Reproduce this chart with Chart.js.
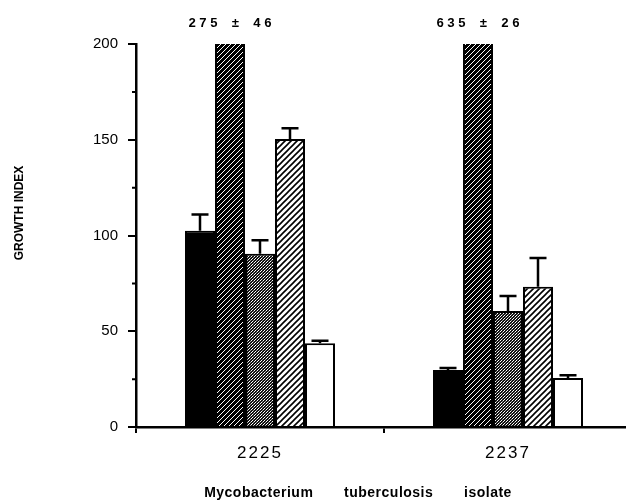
<!DOCTYPE html>
<html>
<head>
<meta charset="utf-8">
<script src="https://cdn.jsdelivr.net/npm/chart.js@4.4.0/dist/chart.umd.min.js"></script>
<style>
html, body { margin: 0; padding: 0; background: #fff; overflow: hidden; }
</style>
</head>
<body>
<canvas id="growthChart" width="632" height="501"></canvas>
<script>
// values (growth index, mean and error)
const isolates = ['2225', '2237'];
const solidBlack = [102.5, 29.8];
const solidBlackErr = [8.5, 1];
const darkHatch = [275, 635];
const darkHatchErr = [46, 26];
const stipple = [90.5, 60.6];
const stippleErr = [7, 7.8];
const lightHatch = [150.4, 73.3];
const lightHatchErr = [5.6, 15];
const openBar = [43.7, 25.6];
const openBarErr = [1.3, 1.4];
const yTicks = [0, 50, 100, 150, 200];
const yMinorTicks = [25, 75, 125, 175];
const xTitleWords = ['Mycobacterium', 'tuberculosis', 'isolate'];

const FONT = '"Liberation Sans", Arial, Helvetica, sans-serif';
const canvas = document.getElementById('growthChart');
const mainCtx = canvas.getContext('2d');

function hatch(bg, fg, size, lw) {
    const c = document.createElement('canvas');
    c.width = size; c.height = size;
    const g = c.getContext('2d');
    g.fillStyle = bg;
    g.fillRect(0, 0, size, size);
    g.strokeStyle = fg;
    g.lineWidth = lw;
    g.beginPath();
    for (const o of [-size, 0, size]) {
        g.moveTo(o - 1, size + 1);
        g.lineTo(o + size + 1, -1);
    }
    g.stroke();
    return mainCtx.createPattern(c, 'repeat');
}

function dots() {
    const c = document.createElement('canvas');
    c.width = 3; c.height = 3;
    const g = c.getContext('2d');
    g.fillStyle = '#111';
    g.fillRect(0, 0, 3, 3);
    g.fillStyle = '#fff';
    g.fillRect(0, 0, 1, 1);
    g.fillRect(2, 1, 1, 1);
    g.fillStyle = '#aaa';
    g.fillRect(1, 2, 1, 1);
    return mainCtx.createPattern(c, 'repeat');
}

const errorBars = {
    id: 'errorBars',
    afterDatasetsDraw(chart) {
        const ctx = chart.ctx, y = chart.scales.y;
        ctx.save();
        ctx.strokeStyle = '#000';
        ctx.lineWidth = 2.5;
        chart.data.datasets.forEach((ds, i) => {
            chart.getDatasetMeta(i).data.forEach((bar, j) => {
                if (ds.data[j] > y.max) return;
                const yTop = y.getPixelForValue(ds.data[j] + ds.err[j]);
                ctx.beginPath();
                ctx.moveTo(bar.x, bar.y);
                ctx.lineTo(bar.x, yTop);
                ctx.moveTo(bar.x - 8.5, yTop);
                ctx.lineTo(bar.x + 8.5, yTop);
                ctx.stroke();
            });
        });
        ctx.restore();
        // x tick labels are drawn next (ticks.z = 1), spaced out like the original
        ctx.letterSpacing = '2px';
    },
    afterDraw(chart) {
        const ctx = chart.ctx, y = chart.scales.y;
        ctx.letterSpacing = '0px';
        ctx.save();
        // minor ticks on the y axis
        ctx.strokeStyle = '#000';
        ctx.lineWidth = 2;
        ctx.beginPath();
        yMinorTicks.forEach(v => {
            const py = y.getPixelForValue(v);
            ctx.moveTo(y.right - 4, py);
            ctx.lineTo(y.right, py);
        });
        ctx.stroke();

        // values of bars running off the top
        ctx.fillStyle = '#000';
        ctx.font = 'bold 13px "Liberation Mono", "Courier New", monospace';
        ctx.letterSpacing = '3px';
        ctx.textAlign = 'center';
        ctx.textBaseline = 'middle';
        chart.data.datasets.forEach((ds, i) => {
            chart.getDatasetMeta(i).data.forEach((bar, j) => {
                if (ds.data[j] <= y.max) return;
                ctx.fillText(ds.data[j] + ' ± ' + ds.err[j], bar.x + 1.5, 24);
            });
        });

        // x axis title, words spread apart
        ctx.font = 'bold 14px ' + FONT;
        ctx.letterSpacing = '0.5px';
        ctx.fillText(xTitleWords.join('       '), 358, 493);
        ctx.letterSpacing = '0px';

        // y axis title
        ctx.translate(20, 213);
        ctx.rotate(-Math.PI / 2);
        ctx.font = 'bold 12px ' + FONT;
        ctx.fillText('GROWTH INDEX', 0, 0);
        ctx.restore();
    }
};

new Chart(mainCtx, {
    type: 'bar',
    data: {
        labels: isolates,
        datasets: [
            { data: solidBlack, err: solidBlackErr, backgroundColor: '#000' },
            { data: darkHatch, err: darkHatchErr, backgroundColor: hatch('#000', '#fff', 5, 1) },
            { data: stipple, err: stippleErr, backgroundColor: dots() },
            { data: lightHatch, err: lightHatchErr, backgroundColor: hatch('#fff', '#000', 6, 1.6) },
            { data: openBar, err: openBarErr, backgroundColor: '#fff' }
        ]
    },
    options: {
        responsive: false,
        animation: false,
        layout: { padding: { top: 44, right: 0, bottom: 0, left: 0 } },
        plugins: { legend: { display: false }, tooltip: { enabled: false } },
        datasets: {
            bar: {
                categoryPercentage: 150 / 248,
                barPercentage: 1,
                borderColor: '#000',
                borderWidth: 2,
                clip: 0
            }
        },
        scales: {
            x: {
                grid: { drawOnChartArea: false, offset: true, tickLength: 6, color: '#000', lineWidth: 2 },
                border: { color: '#000', width: 2.5 },
                ticks: { z: 1, color: '#000', padding: 10, maxRotation: 0, font: { family: FONT, size: 17 } },
                afterFit: s => { s.height = 74; }
            },
            y: {
                min: 0,
                max: 200,
                afterBuildTicks: s => { s.ticks = yTicks.map(v => ({ value: v })); },
                grid: { drawOnChartArea: false, tickLength: 8, color: '#000', lineWidth: 2 },
                border: { color: '#000', width: 2.5 },
                ticks: { color: '#000', padding: 10, font: { family: FONT, size: 15 } },
                afterFit: s => { s.width = 136; }
            }
        }
    },
    plugins: [errorBars]
});
</script>
</body>
</html>
